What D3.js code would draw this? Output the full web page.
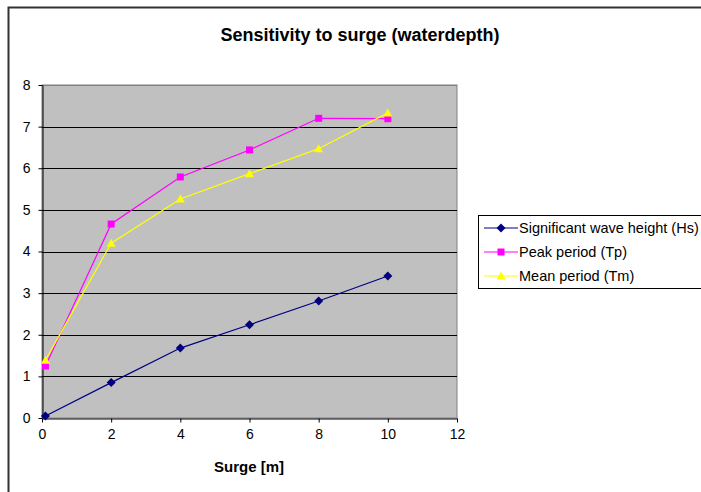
<!DOCTYPE html>
<html><head><meta charset="utf-8">
<script src="https://cdn.jsdelivr.net/npm/d3@7"></script>
<style>body{margin:0;background:#fff}svg{display:block;font-family:"Liberation Sans",Arial,sans-serif}</style>
</head><body><svg id="c" width="701" height="492"></svg>
<script>
const surge = [0.1, 2, 4, 6, 8, 10];
const hs = [0.05, 0.85, 1.68, 2.24, 2.81, 3.41];
const tp = [1.25, 4.66, 5.79, 6.44, 7.2, 7.19];
const tm = [1.39, 4.2, 5.26, 5.87, 6.47, 7.33];
const seriesNames = ["Significant wave height (Hs)", "Peak period (Tp)", "Mean period (Tm)"];
const xTicks = [0, 2, 4, 6, 8, 10, 12];
const yTicks = [0, 1, 2, 3, 4, 5, 6, 7, 8];

const svg = d3.select("#c");
svg.append("rect").attr("x", 8.5).attr("y", 7.5).attr("width", 720).attr("height", 520)
  .attr("fill", "#fff").attr("stroke", "#333").attr("stroke-width", 2);

const x = d3.scaleLinear().domain([0, 12]).range([42, 457]);
const y = d3.scaleLinear().domain([0, 8]).range([418, 85]);

svg.append("rect").attr("x", x(0)).attr("y", y(8)).attr("width", x(12) - x(0)).attr("height", y(0) - y(8))
  .attr("fill", "#c0c0c0").attr("stroke", "#808080").attr("stroke-width", 1);

svg.append("g").selectAll("line").data(yTicks.slice(1, -1)).join("line")
  .attr("x1", x(0)).attr("x2", x(12)).attr("y1", d => Math.round(y(d)) + 0.5).attr("y2", d => Math.round(y(d)) + 0.5)
  .attr("stroke", "#000").attr("stroke-width", 1);
svg.append("line").attr("x1", x(0)).attr("x2", x(12)).attr("y1", Math.round(y(8)) + 0.5).attr("y2", Math.round(y(8)) + 0.5).attr("stroke", "#808080");

const xAxis = svg.append("g").attr("transform", `translate(0,${Math.round(y(0)) + 0.5})`)
  .call(d3.axisBottom(x).tickValues(xTicks).tickSize(4).tickSizeOuter(0).tickPadding(7));
const yAxis = svg.append("g").attr("transform", `translate(${Math.round(x(0)) + 0.5},0)`)
  .call(d3.axisLeft(y).tickValues(yTicks).tickSize(4).tickSizeOuter(0).tickPadding(8));
[xAxis, yAxis].forEach(g => {
  g.selectAll("text").attr("font-size", 14).attr("fill", "#000").attr("font-family", '"Liberation Sans",Arial,sans-serif');
  g.selectAll("line,path").attr("stroke", "#000");
});

const series = [
  {name: seriesNames[0], vals: hs, color: "#000080", marker: "diamond"},
  {name: seriesNames[1], vals: tp, color: "#ff00ff", marker: "square"},
  {name: seriesNames[2], vals: tm, color: "#ffff00", marker: "triangle"}
];
const sym = {
  diamond: () => "M0,-4.5L4.5,0L0,4.5L-4.5,0Z",
  square: () => "M-3.5,-3.5H3.5V3.5H-3.5Z",
  triangle: () => "M0,-4.5L4.5,3.5H-4.5Z"
};
const line = d3.line().x(d => x(d[0])).y(d => y(d[1]));
series.forEach(s => {
  const pts = surge.map((v, i) => [v, s.vals[i]]);
  svg.append("path").attr("d", line(pts)).attr("fill", "none").attr("stroke", s.color).attr("stroke-width", 1.2);
  svg.append("g").selectAll("path").data(pts).join("path")
    .attr("transform", d => `translate(${x(d[0])},${y(d[1])})`).attr("d", sym[s.marker]()).attr("fill", s.color);
});

svg.append("text").attr("x", 360).attr("y", 41).attr("text-anchor", "middle").attr("font-size", 18).attr("font-weight", "bold").text("Sensitivity to surge (waterdepth)");
svg.append("text").attr("x", 249).attr("y", 472).attr("text-anchor", "middle").attr("font-size", 15).attr("font-weight", "bold").text("Surge [m]");

const lg = svg.append("g");
lg.append("rect").attr("x", 478.5).attr("y", 215.5).attr("width", 230).attr("height", 73).attr("fill", "#fff").attr("stroke", "#000");
series.forEach((s, i) => {
  const yy = 228 + i * 24;
  lg.append("line").attr("x1", 484).attr("x2", 518).attr("y1", yy).attr("y2", yy).attr("stroke", s.color).attr("stroke-width", 1.2);
  lg.append("path").attr("transform", `translate(501,${yy})`).attr("d", sym[s.marker]()).attr("fill", s.color);
  lg.append("text").attr("x", 519).attr("y", yy + 5).attr("font-size", 14.5).attr("fill", "#000").text(s.name);
});
</script></body></html>
